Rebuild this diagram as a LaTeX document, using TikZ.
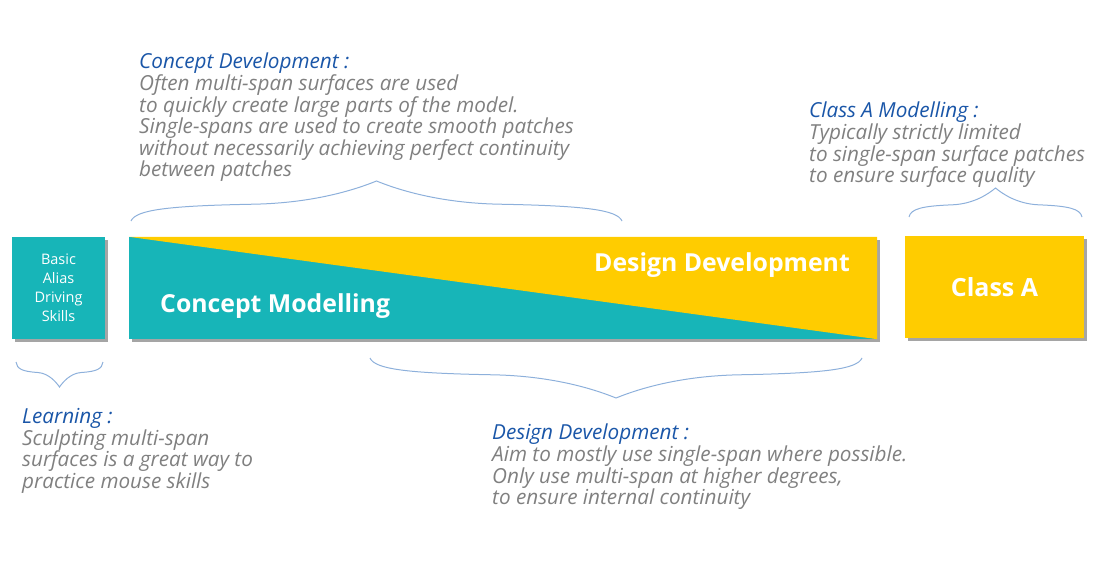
\documentclass[tikz,border=0pt]{standalone}
\usepackage{fontspec}
\setmainfont{Open Sans}
\usetikzlibrary{shadows}
\definecolor{boxteal}{HTML}{17B5B8}
\definecolor{boxyellow}{HTML}{FFCC00}
\definecolor{braceblue}{HTML}{8DB0DB}
\definecolor{titleblue}{HTML}{1A56A8}
\definecolor{notegray}{HTML}{808080}
\tikzset{
  blockbox/.style={minimum height=102pt, inner sep=0pt, text=white,
    drop shadow={shadow xshift=3pt, shadow yshift=-3pt, fill=black!70}},
  blocklabel/.style={inner sep=0pt, text=white, font=\fontsize{24.8}{28}\selectfont\bfseries},
  note/.style={anchor=north west, inner sep=0pt, align=left, text=notegray,
    font=\fontsize{20.7}{21.6}\selectfont\itshape},
  curly/.pic={
    \draw[braceblue, line width=1pt]
      (-1,1) .. controls (-0.98,0.72) and (-0.85,0.62) .. (-0.5,0.58)
      .. controls (-0.25,0.55) and (-0.08,0.2) .. (0,0)
      .. controls (0.08,0.2) and (0.25,0.55) .. (0.5,0.58)
      .. controls (0.85,0.62) and (0.98,0.72) .. (1,1);
  }
}
\begin{document}
\begin{tikzpicture}[x=1pt,y=-1pt]
  \useasboundingbox (0,0) rectangle (1100,580);
  % boxes
  \node[blockbox, minimum width=93pt, fill=boxteal, align=center,
    font=\fontsize{14.5}{19}\selectfont] (basic) at (58.5,288) {Basic\\Alias\\Driving\\Skills};
  \node[blockbox, minimum width=748pt, fill=boxteal] (main) at (503,288) {};
  \fill[boxyellow] (main.north west) -- (main.north east) -- (main.south east) -- cycle;
  \node[blocklabel, anchor=base west] (concept) at (160,312) {Concept Modelling};
  \node[blocklabel, anchor=base east] (design) at (850,271) {Design Development};
  \node[blockbox, minimum width=179pt, fill=boxyellow,
    font=\fontsize{25}{28}\selectfont\bfseries] (classa) at (994.5,287) {Class A};
  % braces
  \pic[xscale=245.5, yscale=40] at (376.5,181) {curly};
  \pic[xscale=86.5, yscale=29] at (995.5,188) {curly};
  \pic[xscale=43.5, yscale=-25] at (59.5,387) {curly};
  \pic[xscale=246, yscale=-40] at (616,398) {curly};
  % notes
  \node[note] (conceptnote) at (139,53) {\textcolor{titleblue}{Concept Development :}\\
    Often multi-span surfaces are used\\
    to quickly create large parts of the model.\\
    Single-spans are used to create smooth patches\\
    without necessarily achieving perfect continuity\\
    between patches};
  \node[note] (classanote) at (809,102) {\textcolor{titleblue}{Class A Modelling :}\\
    Typically strictly limited\\
    to single-span surface patches\\
    to ensure surface quality};
  \node[note] (learningnote) at (22,408) {\textcolor{titleblue}{Learning :}\\
    Sculpting multi-span\\
    surfaces is a great way to\\
    practice mouse skills};
  \node[note] (designnote) at (492,424) {\textcolor{titleblue}{Design Development :}\\
    Aim to mostly use single-span where possible.\\
    Only use multi-span at higher degrees,\\
    to ensure internal continuity};
\end{tikzpicture}
\end{document}
